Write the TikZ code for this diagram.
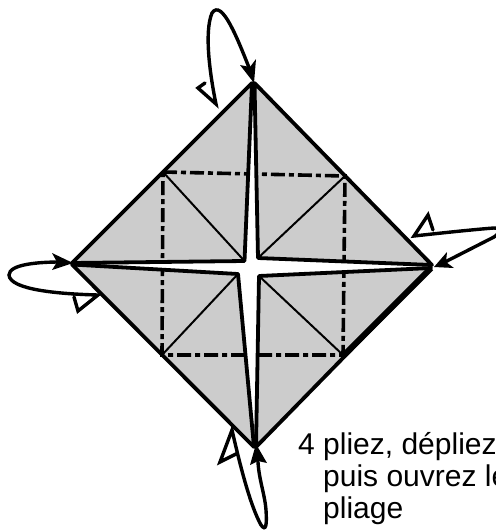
\documentclass[tikz,border=0pt]{standalone}
\usepackage{fontspec}
\setmainfont{Liberation Sans}
\tikzset{
 flap/.style={fill=black!20,draw=none},
 edge/.style={line width=3.8pt,line cap=round,line join=round},
 crease/.style={line width=2pt},
 fold/.style={line width=3.6pt,dash pattern=on 14pt off 4pt on 5pt off 4pt},
 curl/.style={line width=3.4pt,line cap=round,line join=miter},
 head/.style={fill=black,draw=none},
 caption/.style={anchor=base west,inner sep=0pt,font=\fontsize{30pt}{32pt}\selectfont}
}
\begin{document}
\begin{tikzpicture}[x=1pt,y=-1pt]
\useasboundingbox (0,0) rectangle (496,531);
\clip (0,0) rectangle (496,531);
% apexes and inner corners
\coordinate (T) at (252,83);
\coordinate (T2) at (254.5,83);
\coordinate (R) at (432,265);
\coordinate (R2) at (431,268);
\coordinate (B) at (254,447);
\coordinate (B2) at (256,447);
\coordinate (L) at (72,263);
\coordinate (L2) at (72,264.5);
\coordinate (iTL) at (244.5,261);
\coordinate (iTR) at (258,258);
\coordinate (iBL) at (238,274);
\coordinate (iBR) at (259,276);
% square
\coordinate (sTL) at (163,172);
\coordinate (sTR) at (345,176);
\coordinate (sBR) at (343,355);
\coordinate (sBL) at (162,355);
% flaps
\fill[flap] (L) -- (T) -- (iTL) -- cycle;
\fill[flap] (T2) -- (iTR) -- (R) -- cycle;
\fill[flap] (L2) -- (iBL) -- (B) -- cycle;
\fill[flap] (iBR) -- (R2) -- (B2) -- cycle;
% creases
\draw[crease] (sTL) -- (iTL);
\draw[crease] (sTR) -- (iTR);
\draw[crease] (sBL) -- (iBL);
\draw[crease] (sBR) -- (iBR);
\draw[fold] (sTL) -- (sTR) -- (sBR) -- (sBL) -- cycle;
% slit covers the fold lines, then edges
\fill[white] (T) -- (iTL) -- (L) -- (L2) -- (iBL) -- (B) -- (B2) -- (iBR) -- (R2) -- (R) -- (iTR) -- (T2) -- cycle;
\draw[edge] (L) -- (T) -- (iTL) -- cycle;
\draw[edge] (T2) -- (iTR) -- (R) -- cycle;
\draw[edge] (L2) -- (iBL) -- (B) -- cycle;
\draw[edge] (iBR) -- (R2) -- (B2) -- cycle;
\draw[line width=6pt] (R2) -- (343,356);
% arrow top
\coordinate (tTop) at (254,83);
\coordinate (eTop) at (216,104);
\draw[curl] (205,83) -- (198,88) -- (eTop) .. controls (210,75) and (204,32) .. (212,13) .. controls (222,-2) and (238,40) .. (250,70);
\fill[head] (tTop) -- (240,65) -- (250,67) -- (256,59) -- cycle;
% arrow left
\coordinate (tLeft) at (73,263);
\coordinate (eLeft) at (98,295);
\draw[curl] (74,297) -- (78,311) -- (eLeft) .. controls (60,294) and (10,290) .. (9,275) .. controls (9,264) and (40,262) .. (60,262);
\fill[head] (tLeft) -- (52,253) -- (57,262) -- (52,270) -- cycle;
% arrow right
\coordinate (tRight) at (434,267);
\coordinate (eRight) at (414,236);
\draw[curl] (433,230) -- (428,215) -- (eRight) .. controls (450,232) and (480,229) .. (494,228) .. controls (502,228) and (500,233) .. (494,237) -- (445,262);
\fill[head] (tRight) -- (447,252) -- (446,262) -- (454,268) -- cycle;
% arrow bottom
\coordinate (tBottom) at (256,444);
\coordinate (eBottom) at (232,430);
\draw[curl] (236,454) -- (220,462) -- (eBottom) .. controls (240,465) and (250,505) .. (261,525) .. controls (266,532) and (267,525) .. (266,510) .. controls (265,495) and (259,480) .. (258,462);
\fill[head] (tBottom) -- (250,465) -- (258,461) -- (267,463) -- cycle;
% caption
\node[caption] (c1) at (298,454) {4 pliez, dépliez};
\node[caption] (c2) at (323,486) {puis ouvrez le};
\node[caption] (c3) at (323,518) {pliage};
\end{tikzpicture}
\end{document}
